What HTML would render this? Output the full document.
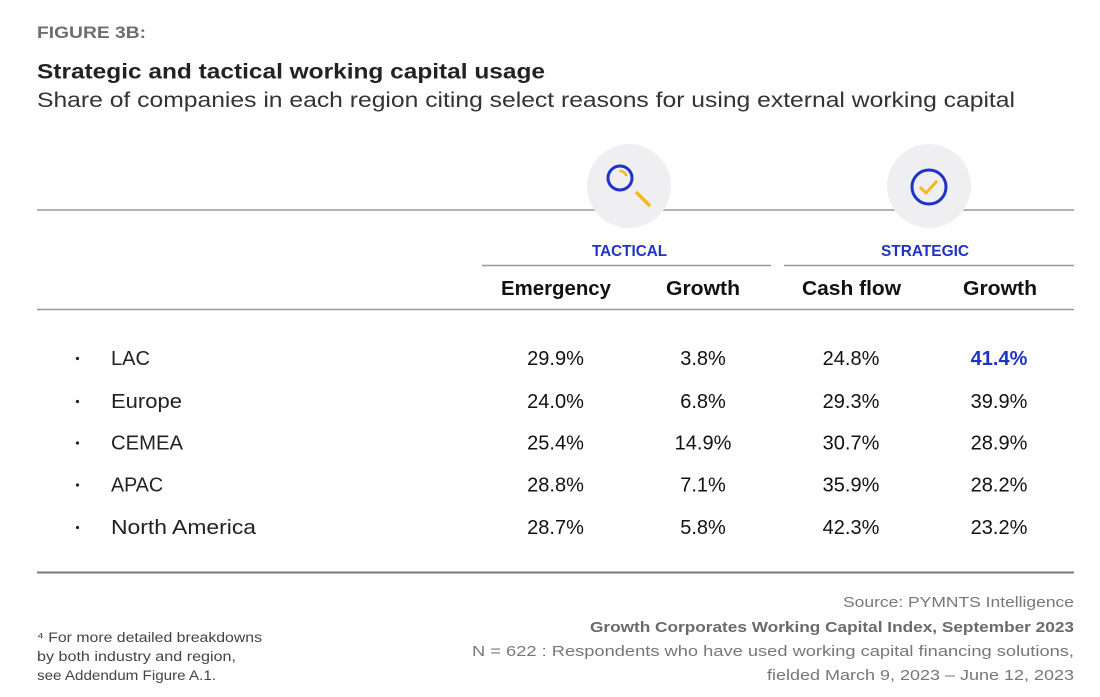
<!DOCTYPE html>
<html>
<head>
<meta charset="utf-8">
<style>
  html, body { margin: 0; padding: 0; background: #ffffff; }
  svg { display: block; }
  text { font-family: "Liberation Sans", Arial, sans-serif; }
</style>
</head>
<body>
<svg width="1100" height="697" viewBox="0 0 1100 697" xmlns="http://www.w3.org/2000/svg">
  <rect x="0" y="0" width="1100" height="697" fill="#ffffff"/>

  <!-- Header texts -->
  <text x="37" y="38" font-size="17" font-weight="bold" fill="#6e6e6e" textLength="109" lengthAdjust="spacingAndGlyphs">FIGURE 3B:</text>
  <text x="37" y="78.5" font-size="21" font-weight="bold" fill="#222222" textLength="508" lengthAdjust="spacingAndGlyphs">Strategic and tactical working capital usage</text>
  <text x="37" y="107" font-size="21" fill="#333333" textLength="978" lengthAdjust="spacingAndGlyphs">Share of companies in each region citing select reasons for using external working capital</text>

  <!-- Top line -->
  <line x1="37" y1="210" x2="1074" y2="210" stroke="#9a9a9a" stroke-width="1.6"/>

  <!-- Icon circles -->
  <circle cx="629" cy="186" r="42" fill="#efeff2"/>
  <circle cx="929" cy="186" r="42" fill="#efeff2"/>

  <!-- Magnifier -->
  <circle cx="620" cy="178" r="12" fill="none" stroke="#1f33c4" stroke-width="3"/>
  <path d="M619.5 171 A7 7 0 0 1 626.5 176" fill="none" stroke="#f5b820" stroke-width="2.5" stroke-linecap="butt"/>
  <line x1="636" y1="192" x2="650" y2="206" stroke="#f5b820" stroke-width="3.5" stroke-linecap="butt"/>

  <!-- Check -->
  <circle cx="929" cy="187" r="17" fill="none" stroke="#1f33c4" stroke-width="3"/>
  <polyline points="920,187 926,193 937,181" fill="none" stroke="#f5b820" stroke-width="3" stroke-linejoin="miter" stroke-linecap="butt"/>

  <!-- Group labels -->
  <text x="629.5" y="256" font-size="15.5" font-weight="bold" fill="#1f33c4" text-anchor="middle" textLength="75" lengthAdjust="spacingAndGlyphs">TACTICAL</text>
  <text x="925" y="256" font-size="15.5" font-weight="bold" fill="#1f33c4" text-anchor="middle" textLength="88" lengthAdjust="spacingAndGlyphs">STRATEGIC</text>

  <line x1="482" y1="265.5" x2="771" y2="265.5" stroke="#9a9a9a" stroke-width="1.4"/>
  <line x1="784" y1="265.5" x2="1074" y2="265.5" stroke="#9a9a9a" stroke-width="1.4"/>

  <!-- Column headers -->
  <text x="556" y="295" font-size="20" font-weight="bold" fill="#111111" text-anchor="middle" textLength="110" lengthAdjust="spacingAndGlyphs">Emergency</text>
  <text x="703" y="295" font-size="20" font-weight="bold" fill="#111111" text-anchor="middle" textLength="74" lengthAdjust="spacingAndGlyphs">Growth</text>
  <text x="851.5" y="295" font-size="20" font-weight="bold" fill="#111111" text-anchor="middle" textLength="99" lengthAdjust="spacingAndGlyphs">Cash flow</text>
  <text x="1000" y="295" font-size="20" font-weight="bold" fill="#111111" text-anchor="middle" textLength="74" lengthAdjust="spacingAndGlyphs">Growth</text>

  <line x1="37" y1="309.5" x2="1074" y2="309.5" stroke="#9a9a9a" stroke-width="1.6"/>

  <!-- Rows -->
  <g font-size="20" fill="#111111">
    <circle cx="77.5" cy="358.5" r="1.6" fill="#222"/>
    <circle cx="77.5" cy="401.5" r="1.6" fill="#222"/>
    <circle cx="77.5" cy="443" r="1.6" fill="#222"/>
    <circle cx="77.5" cy="485" r="1.6" fill="#222"/>
    <circle cx="77.5" cy="527.5" r="1.6" fill="#222"/>

    <text x="111" y="365" fill="#222">LAC</text>
    <text x="111" y="408" fill="#222" textLength="71" lengthAdjust="spacingAndGlyphs">Europe</text>
    <text x="111" y="449.5" fill="#222" textLength="72" lengthAdjust="spacingAndGlyphs">CEMEA</text>
    <text x="111" y="491.5" fill="#222" textLength="52" lengthAdjust="spacingAndGlyphs">APAC</text>
    <text x="111" y="534" fill="#222" textLength="145" lengthAdjust="spacingAndGlyphs">North America</text>

    <g text-anchor="middle">
      <text x="555.5" y="365">29.9%</text>
      <text x="703" y="365">3.8%</text>
      <text x="851" y="365">24.8%</text>
      <text x="999" y="365" fill="#1f33c4" font-weight="bold">41.4%</text>

      <text x="555.5" y="408">24.0%</text>
      <text x="703" y="408">6.8%</text>
      <text x="851" y="408">29.3%</text>
      <text x="999" y="408">39.9%</text>

      <text x="555.5" y="449.5">25.4%</text>
      <text x="703" y="449.5">14.9%</text>
      <text x="851" y="449.5">30.7%</text>
      <text x="999" y="449.5">28.9%</text>

      <text x="555.5" y="491.5">28.8%</text>
      <text x="703" y="491.5">7.1%</text>
      <text x="851" y="491.5">35.9%</text>
      <text x="999" y="491.5">28.2%</text>

      <text x="555.5" y="534">28.7%</text>
      <text x="703" y="534">5.8%</text>
      <text x="851" y="534">42.3%</text>
      <text x="999" y="534">23.2%</text>
    </g>
  </g>

  <!-- Bottom line -->
  <line x1="37" y1="572.5" x2="1074" y2="572.5" stroke="#7a7a7a" stroke-width="2"/>

  <!-- Footer right -->
  <g font-size="15" fill="#777777" text-anchor="end">
    <text x="1074" y="607" textLength="231" lengthAdjust="spacingAndGlyphs">Source: PYMNTS Intelligence</text>
    <text x="1074" y="632" font-weight="bold" fill="#6a6a6a" textLength="484" lengthAdjust="spacingAndGlyphs">Growth Corporates Working Capital Index, September 2023</text>
    <text x="1074" y="656" textLength="602" lengthAdjust="spacingAndGlyphs">N = 622 : Respondents who have used working capital financing solutions,</text>
    <text x="1074" y="680" textLength="307" lengthAdjust="spacingAndGlyphs">fielded March 9, 2023 – June 12, 2023</text>
  </g>

  <!-- Footer left -->
  <g font-size="13.5" fill="#444444">
    <text x="37" y="642" textLength="225" lengthAdjust="spacingAndGlyphs">⁴ For more detailed breakdowns</text>
    <text x="37" y="661" textLength="199" lengthAdjust="spacingAndGlyphs">by both industry and region,</text>
    <text x="37" y="680" textLength="179" lengthAdjust="spacingAndGlyphs">see Addendum Figure A.1.</text>
  </g>
</svg>
</body>
</html>
